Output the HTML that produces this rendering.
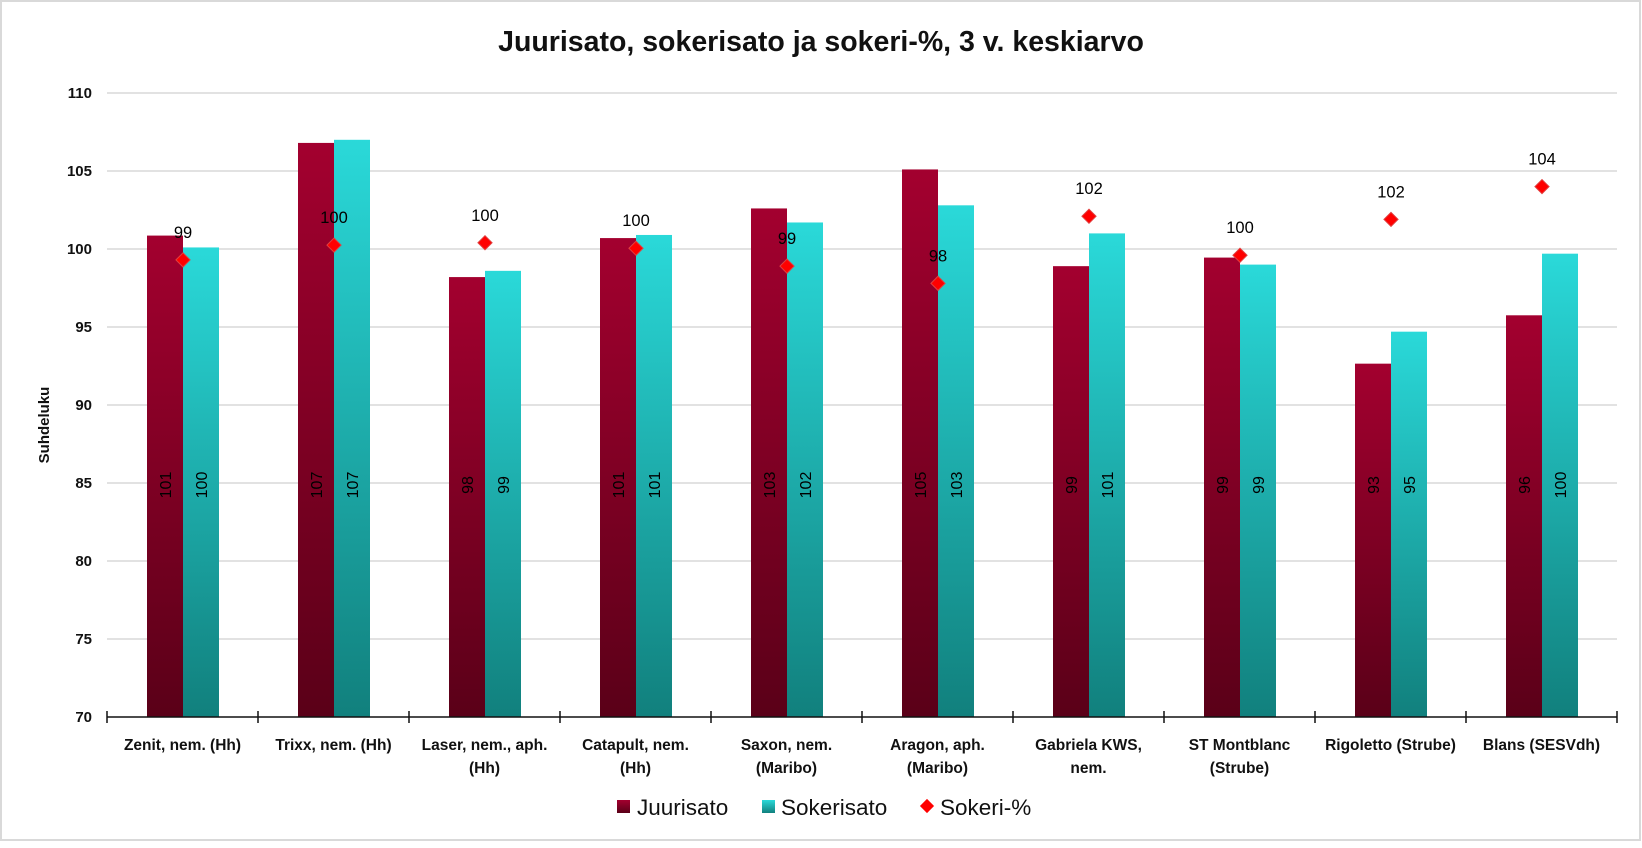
<!DOCTYPE html>
<html><head><meta charset="utf-8"><style>
body{margin:0;background:#fff}
svg text{font-family:"Liberation Sans",sans-serif}
</style></head><body>
<svg width="1642" height="843" xmlns="http://www.w3.org/2000/svg">
<defs>
<linearGradient id="r" x1="0" y1="0" x2="0" y2="1"><stop offset="0" stop-color="#a3002f"/><stop offset="1" stop-color="#5a0018"/></linearGradient>
<linearGradient id="t" x1="0" y1="0" x2="0" y2="1"><stop offset="0" stop-color="#2ad9d9"/><stop offset="1" stop-color="#11807d"/></linearGradient>
</defs>
<rect x="1" y="1" width="1639" height="839" fill="#fff" stroke="#d9d9d9" stroke-width="2"/>
<text x="821" y="51" text-anchor="middle" font-size="28.5" font-weight="bold" fill="#111">Juurisato, sokerisato ja sokeri-%, 3 v. keskiarvo</text>
<g id="grid" stroke="#d9d9d9" stroke-width="1.5"></g>
<g id="ylab" font-size="15" font-weight="bold" fill="#111" text-anchor="end"></g>
<text transform="translate(49,425) rotate(-90)" text-anchor="middle" font-size="15" font-weight="bold" fill="#111">Suhdeluku</text>
<g id="bars"></g>
<g id="axis" stroke="#111" stroke-width="1.5"></g>
<g id="xlab" font-size="15.5" font-weight="bold" fill="#111" text-anchor="middle"></g>
<g font-size="22.5" fill="#111">
<rect x="617" y="800" width="13" height="13" fill="url(#r)"/><text x="637" y="815">Juurisato</text>
<rect x="762" y="800" width="13" height="13" fill="url(#t)"/><text x="781" y="815">Sokerisato</text>
<rect x="922" y="801" width="10" height="10" fill="#f00" transform="rotate(45 927 806)"/><text x="940" y="815">Sokeri-%</text>
</g>
</svg>
<script>
const NS="http://www.w3.org/2000/svg";
function el(p,t,a,txt){const e=document.createElementNS(NS,t);for(const k in a)e.setAttribute(k,a[k]);if(txt!=null)e.textContent=txt;document.getElementById(p).appendChild(e);return e;}
const Y=v=>717-(v-70)*15.6;
for(let v=70;v<=110;v+=5){ if(v>70) el("grid","line",{x1:107,x2:1617,y1:Y(v),y2:Y(v)}); el("ylab","text",{x:92,y:Y(v)+5},String(v)); }
const d=[
["Zenit, nem. (Hh)","",100.86,100.1,99.3,"101","100","99"],
["Trixx, nem. (Hh)","",106.8,107.0,100.25,"107","107","100"],
["Laser, nem., aph.","(Hh)",98.2,98.6,100.4,"98","99","100"],
["Catapult, nem.","(Hh)",100.7,100.9,100.05,"101","101","100"],
["Saxon, nem.","(Maribo)",102.6,101.7,98.9,"103","102","99"],
["Aragon, aph.","(Maribo)",105.1,102.8,97.8,"105","103","98"],
["Gabriela KWS,","nem.",98.9,101.0,102.1,"99","101","102"],
["ST Montblanc","(Strube)",99.45,99.0,99.6,"99","99","100"],
["Rigoletto (Strube)","",92.65,94.7,101.9,"93","95","102"],
["Blans (SESVdh)","",95.75,99.7,104.0,"96","100","104"]];
d.forEach((c,i)=>{const s=107+151*i;
 el("bars","rect",{x:s+40,y:Y(c[2]),width:36,height:717-Y(c[2]),fill:"url(#r)"});
 el("bars","rect",{x:s+76,y:Y(c[3]),width:36,height:717-Y(c[3]),fill:"url(#t)"});
 el("bars","text",{transform:`translate(${s+64},485) rotate(-90)`,"text-anchor":"middle","font-size":16,fill:"#000"},c[5]);
 el("bars","text",{transform:`translate(${s+100},485) rotate(-90)`,"text-anchor":"middle","font-size":16,fill:"#000"},c[6]);
 const dy=Y(c[4]);
 el("bars","rect",{x:s+71,y:dy-5,width:10,height:10,fill:"#f00",stroke:"#e04040","stroke-width":1,transform:`rotate(45 ${s+76} ${dy})`});
 el("bars","text",{x:s+76,y:dy-22,"text-anchor":"middle","font-size":16.5,fill:"#000"},c[7]);
 el("xlab","text",{x:s+75.5,y:750},c[0]); if(c[1]) el("xlab","text",{x:s+75.5,y:773},c[1]);
});
el("axis","line",{x1:107,x2:1617,y1:717,y2:717});
for(let i=0;i<=10;i++){const x=107+151*i; el("axis","line",{x1:x,x2:x,y1:711,y2:723});}
</script>
</body></html>
